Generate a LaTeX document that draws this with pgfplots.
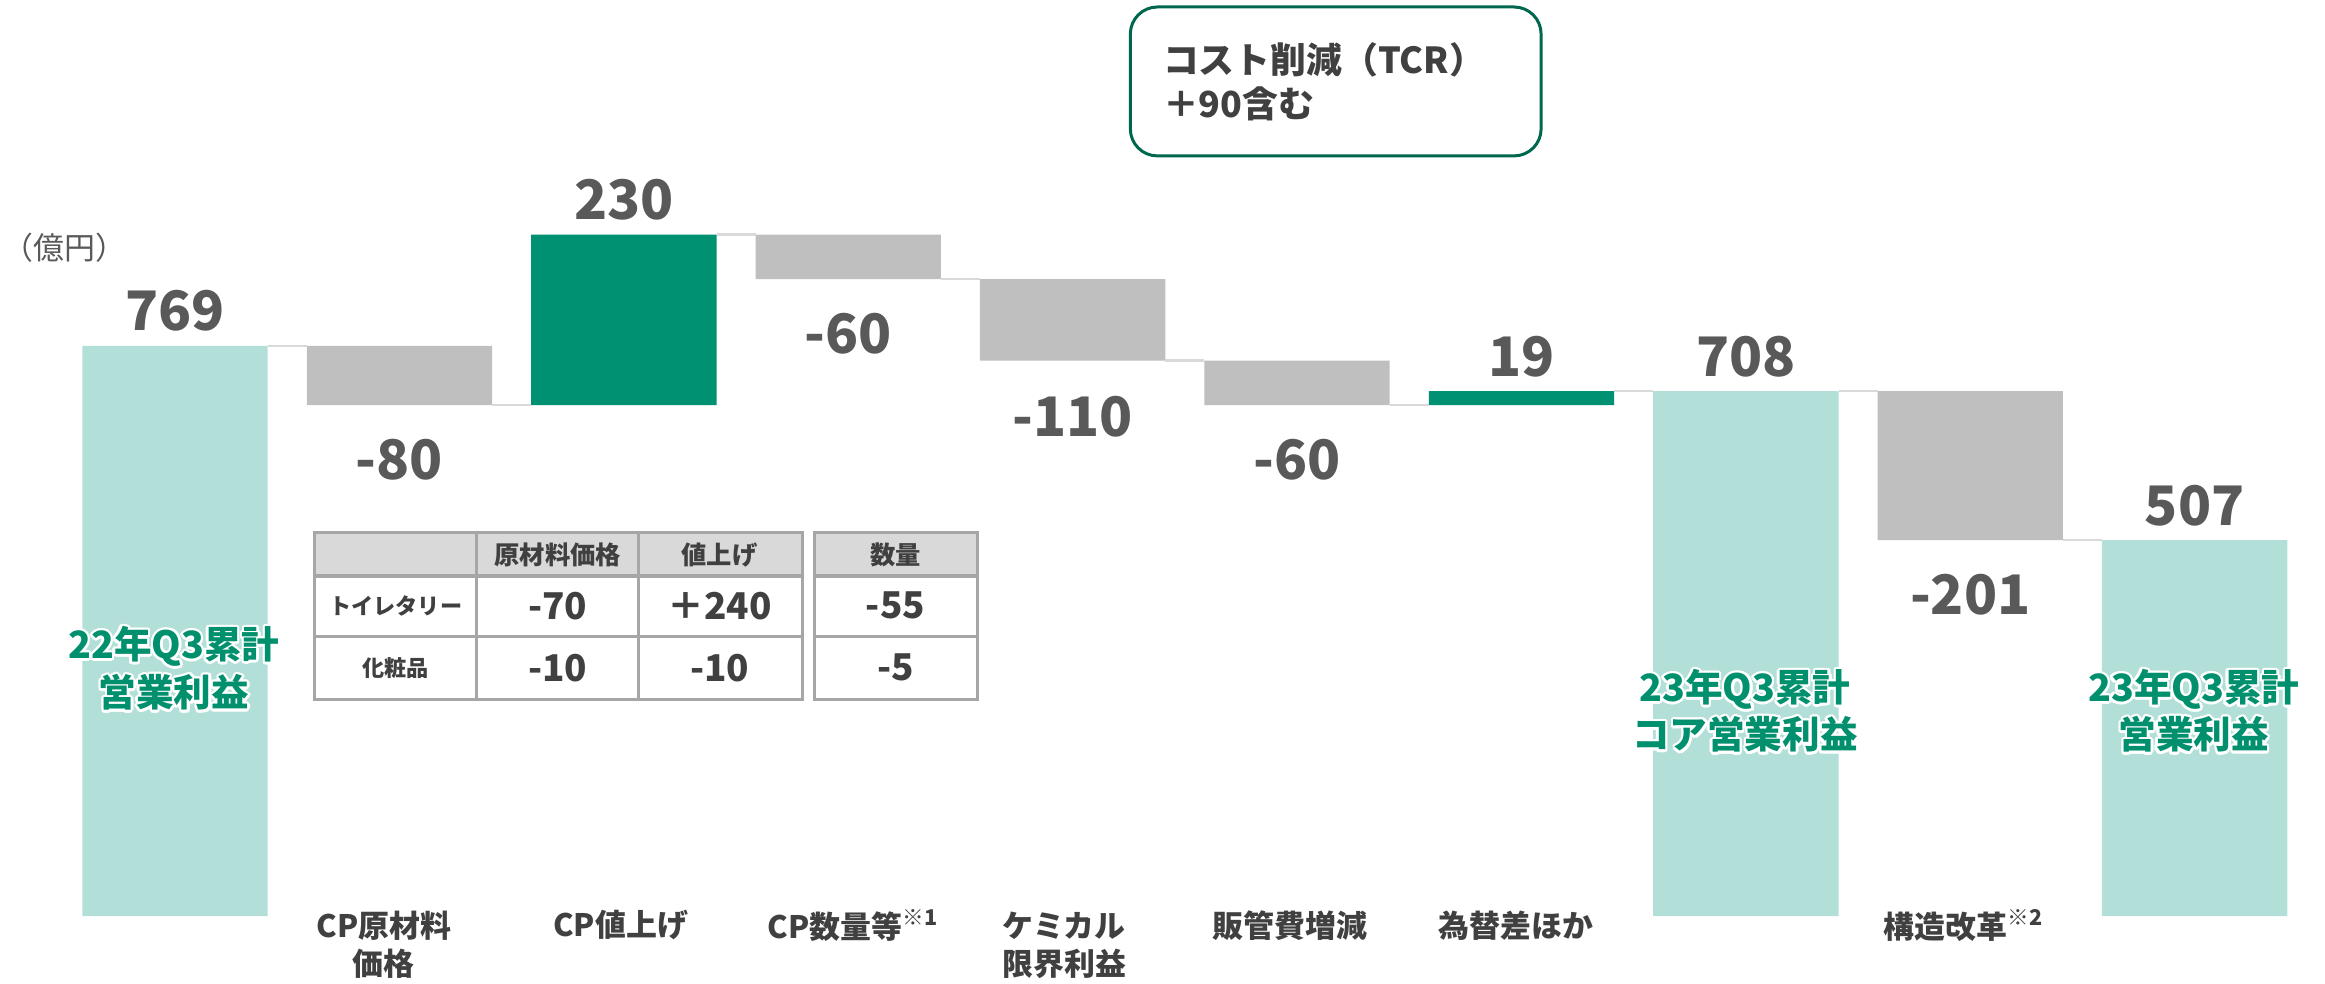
\documentclass[border=0pt]{standalone}
\usepackage{fontspec}
\setmainfont{Noto Sans CJK JP}
\usepackage{pgfplots}
\usepackage{pgfplotstable}
\pgfplotsset{compat=1.18}
\definecolor{teal1}{HTML}{B2DFD8}
\definecolor{grn}{HTML}{009172}
\definecolor{gbar}{HTML}{BFBFBF}
\definecolor{conn}{HTML}{D9D9D9}
\definecolor{lbl}{HTML}{595959}
\definecolor{catc}{HTML}{404040}
\definecolor{gtext}{HTML}{00906D}
\definecolor{boxc}{HTML}{00674F}
\definecolor{tline}{HTML}{A6A6A6}
\definecolor{thead}{HTML}{D9D9D9}

\pgfplotstableread{
x base teal green gray
0 0   769 0   0
1 689 0   0   80
2 689 0   230 0
3 859 0   0   60
4 749 0   0   110
5 689 0   0   60
6 689 0   19  0
7 0   708 0   0
8 507 0   0   201
9 0   507 0   0
}\wf

\newcommand{\fs}[1]{\fontsize{#1}{#1}\selectfont}
\newcommand{\glow}[3]{%
  \foreach \a in {0,30,...,330}{\node[text=white, font=\bfseries\fs{10.7pt}] at ([shift={(\a:2.5)}]#1,#2) {#3};}
  \node[text=gtext, font=\bfseries\fs{10.7pt}] at (#1,#2) {#3};}

\pgfplotsset{wfaxis/.style={scale only axis, width=23.25cm, height=9.84cm,
  xmin=-0.78, xmax=9.581, ymin=-91.7, ymax=1235.5, hide axis, clip=false}}

\begin{document}
\begin{tikzpicture}
\path[use as bounding box] (0,0) rectangle (23.25cm,9.84cm);
\begin{axis}[wfaxis, ybar stacked, bar width=0.826]
\addplot[draw=none, fill=none] table[x=x,y=base]{\wf};
\addplot[draw=none, fill=teal1] table[x=x,y=teal]{\wf};
\addplot[draw=none, fill=grn] table[x=x,y=green]{\wf};
\addplot[draw=none, fill=gbar] table[x=x,y=gray]{\wf};
\end{axis}
\begin{axis}[wfaxis]
\addplot[conn, line width=0.7pt, no marks] coordinates {(0.413,769)(0.587,769)};
\addplot[conn, line width=0.7pt, no marks] coordinates {(1.413,689)(1.587,689)};
\addplot[conn, line width=0.7pt, no marks] coordinates {(2.413,919)(2.587,919)};
\addplot[conn, line width=0.7pt, no marks] coordinates {(3.413,859)(3.587,859)};
\addplot[conn, line width=0.7pt, no marks] coordinates {(4.413,749)(4.587,749)};
\addplot[conn, line width=0.7pt, no marks] coordinates {(5.413,689)(5.587,689)};
\addplot[conn, line width=0.7pt, no marks] coordinates {(6.413,708)(6.587,708)};
\addplot[conn, line width=0.7pt, no marks] coordinates {(7.413,708)(7.587,708)};
\addplot[conn, line width=0.7pt, no marks] coordinates {(8.413,507)(8.587,507)};
\begin{scope}[every node/.style={text=lbl, font=\bfseries\fs{15.5pt}}]
\node at (axis cs:0,816) {769};
\node at (axis cs:1,615) {-80};
\node at (axis cs:2,966) {230};
\node at (axis cs:3,786) {-60};
\node at (axis cs:4,674) {-110};
\node at (axis cs:5,615) {-60};
\node at (axis cs:6,755) {19};
\node at (axis cs:7,755) {708};
\node at (axis cs:8,434) {-201};
\node at (axis cs:9,554) {507};
\end{scope}
\end{axis}
\begin{scope}[x=0.01cm, y=-0.01cm, shift={(0,9.84cm)}]
% unit
\node[anchor=west, inner sep=0, text=lbl, font=\fs{8.8pt}] at (2,248) {（億円）};
% callout
\draw[boxc, line width=0.85pt, rounded corners=0.27cm] (1131,7) rectangle (1542,156);
\node[anchor=west, inner sep=0, text=catc, font=\bfseries\fs{10.2pt}] at (1163,60) {コスト削減（TCR）};
\node[anchor=west, inner sep=0, text=catc, font=\bfseries\fs{10.2pt}] at (1163,104) {＋90含む};
% table
\fill[thead] (315,533) rectangle (803,576);
\fill[thead] (815,533) rectangle (978,576);
\draw[tline, line width=0.8pt] (315,533) rectangle (803,700);
\draw[tline, line width=0.8pt] (477,533) -- (477,700) (639,533) -- (639,700) (315,637) -- (803,637);
\draw[tline, line width=1.2pt] (315,576) -- (803,576);
\draw[tline, line width=0.8pt] (815,533) rectangle (978,700);
\draw[tline, line width=0.8pt] (815,637) -- (978,637);
\draw[tline, line width=1.2pt] (815,576) -- (978,576);
\begin{scope}[every node/.style={text=catc, font=\bfseries\fs{7.2pt}}]
\node at (558,555) {原材料価格};
\node at (720,555) {値上げ};
\node at (896,555) {数量};
\end{scope}
\begin{scope}[every node/.style={text=catc, font=\bfseries\fs{6.3pt}}]
\node at (396,606) {トイレタリー};
\node at (396,668) {化粧品};
\end{scope}
\begin{scope}[every node/.style={text=catc, font=\bfseries\fs{10.5pt}}]
\node at (558,606) {-70};
\node at (720,606) {＋240};
\node at (896,606) {-55};
\node at (558,668) {-10};
\node at (720,668) {-10};
\node at (896,668) {-5};
\end{scope}
% categories
\begin{scope}[every node/.style={text=catc, font=\bfseries\fs{8.8pt}}]
\node at (384,926) {CP原材料};
\node at (384,964) {価格};
\node at (621,926) {CP値上げ};
\node at (854,926) {CP数量等\textsuperscript{※1}};
\node at (1065,926) {ケミカル};
\node at (1065,964) {限界利益};
\node at (1291,926) {販管費増減};
\node at (1517,926) {為替差ほか};
\node at (1965,926) {構造改革\textsuperscript{※2}};
\end{scope}
% green labels
\glow{174}{647}{22年Q3累計}
\glow{174}{693}{営業利益}
\glow{1746}{690}{23年Q3累計}
\glow{1746}{735}{コア営業利益}
\glow{2195}{690}{23年Q3累計}
\glow{2195}{735}{営業利益}
\end{scope}
\end{tikzpicture}
\end{document}
